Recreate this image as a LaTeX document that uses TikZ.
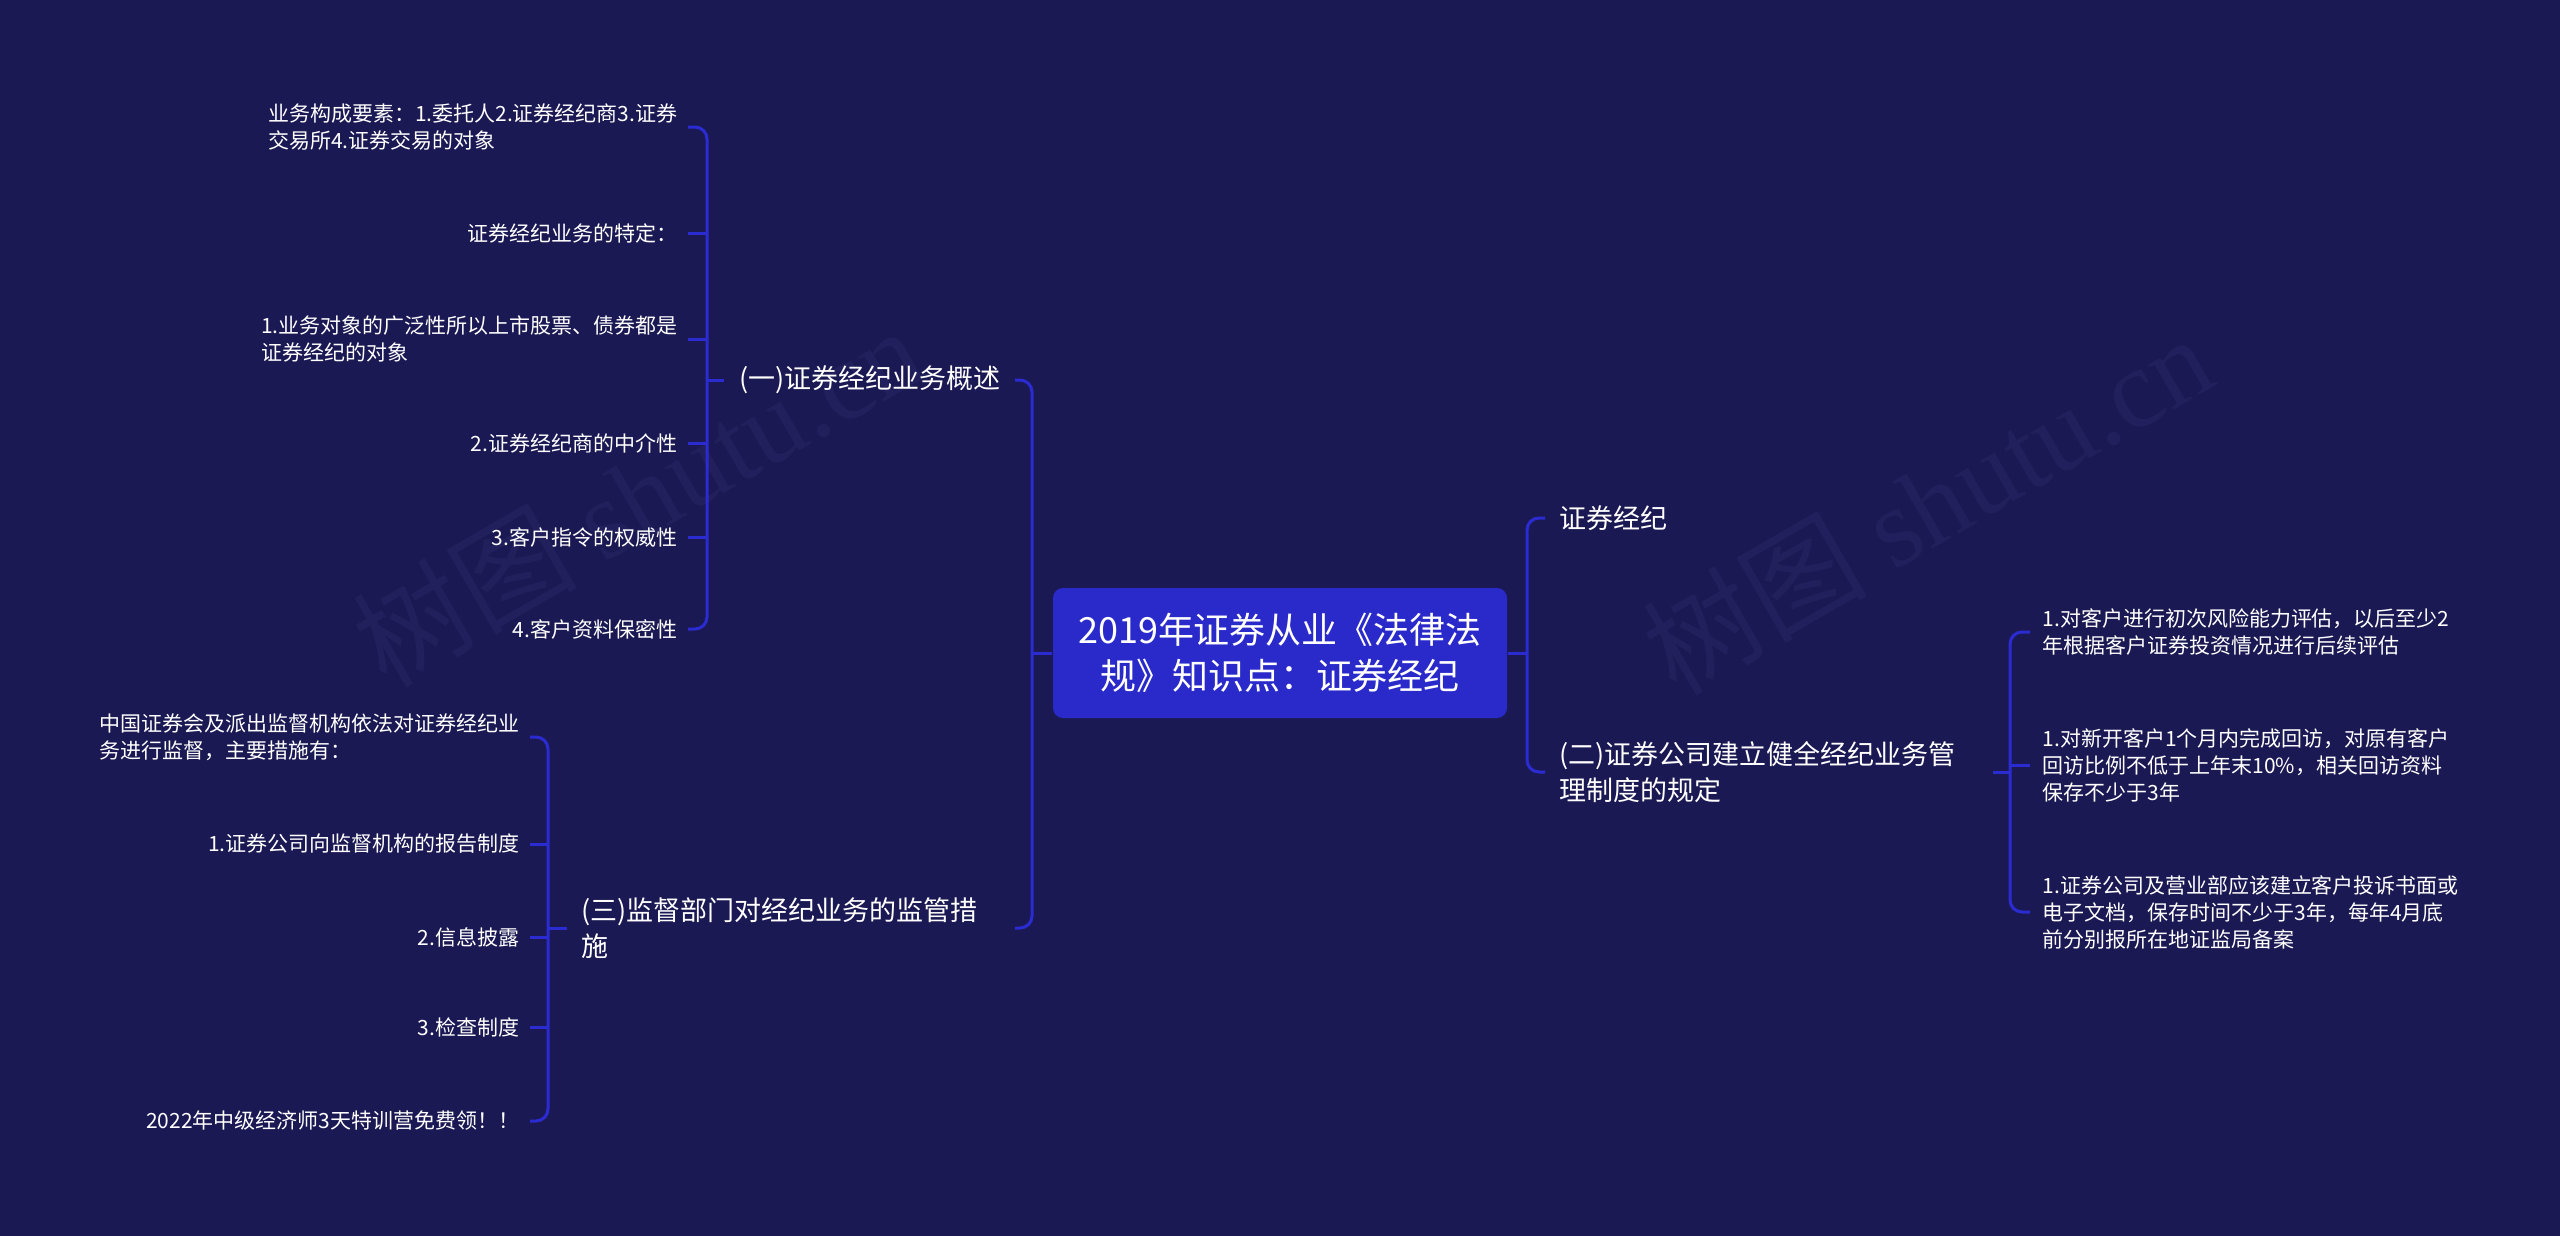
\documentclass[tikz,border=0pt]{standalone}
\usepackage{fontspec}
\setmainfont{Noto Sans CJK SC}
\newfontfamily\wmserif{Liberation Serif}
\definecolor{bgnavy}{HTML}{1B1953}
\definecolor{rootblue}{HTML}{2A2ACB}
\definecolor{linkblue}{HTML}{2B2BD2}
\definecolor{wmgray}{HTML}{22205C}

\begin{document}
\begin{tikzpicture}[
    link/.style={linkblue, line width=0.03cm, rounded corners=0.12cm},
    rootbox/.style={fill=rootblue, rounded corners=0.1cm, text=white, align=center,
        minimum width=4.54cm, minimum height=1.30cm, font=\fontsize{10.24pt}{13.1pt}\selectfont},
    topic/.style={text=white, inner xsep=0.14cm, inner ysep=0.05cm, align=left,
        font=\fontsize{7.68pt}{10.24pt}\selectfont},
    leaf/.style={text=white, inner xsep=0.10cm, inner ysep=0.04cm, align=left,
        font=\fontsize{5.97pt}{7.68pt}\selectfont},
    wmark/.style={wmgray, rotate=30, font=\fontsize{32pt}{32pt}\selectfont}
]
    % 背景
    \useasboundingbox (0,0) rectangle (25.60,-12.35);
    \fill[bgnavy] (-0.1,0.1) rectangle (25.70,-12.45);
    % 水印
    \node[wmark] (wm1) at (6.37,-4.95) {树图 {\wmserif shutu.cn}};
    \node[wmark] (wm2) at (19.27,-5.03) {树图 {\wmserif shutu.cn}};

    % 中心主题
    \node[rootbox] (root) at (12.80,-6.53) {2019年证券从业《法律法\\规》知识点：证券经纪};

    % 一级分支
    \node[topic, anchor=east] (gaishu) at (10.15,-3.80) {(一)证券经纪业务概述};
    \node[topic, anchor=east, text width=4.19cm] (jianguan) at (10.15,-9.28) {(三)监督部门对经纪业务的监管措\\施};
    \node[topic, anchor=west] (jingji) at (15.45,-5.18) {证券经纪};
    \node[topic, anchor=west, text width=4.19cm] (zhidu) at (15.45,-7.72) {(二)证券公司建立健全经纪业务管\\理制度的规定};

    % 分叉点
    \coordinate (jL) at (10.32,-6.53);
    \coordinate (jR) at (15.27,-6.53);
    \coordinate (jA) at (7.07,-3.80);
    \coordinate (jC) at (5.48,-9.28);
    \coordinate (jB) at (20.10,-7.72);

    % (一)的子节点
    \node[leaf, anchor=east] (a1) at (6.88,-1.27) {业务构成要素：1.委托人2.证券经纪商3.证券\\交易所4.证券交易的对象};
    \node[leaf, anchor=east] (a2) at (6.88,-2.33) {证券经纪业务的特定：};
    \node[leaf, anchor=east] (a3) at (6.88,-3.39) {1.业务对象的广泛性所以上市股票、债券都是\\证券经纪的对象};
    \node[leaf, anchor=east] (a4) at (6.88,-4.43) {2.证券经纪商的中介性};
    \node[leaf, anchor=east] (a5) at (6.88,-5.37) {3.客户指令的权威性};
    \node[leaf, anchor=east] (a6) at (6.88,-6.29) {4.客户资料保密性};

    % (三)的子节点
    \node[leaf, anchor=east] (c1) at (5.30,-7.37) {中国证券会及派出监督机构依法对证券经纪业\\务进行监督，主要措施有：};
    \node[leaf, anchor=east] (c2) at (5.30,-8.44) {1.证券公司向监督机构的报告制度};
    \node[leaf, anchor=east] (c3) at (5.30,-9.37) {2.信息披露};
    \node[leaf, anchor=east] (c4) at (5.30,-10.27) {3.检查制度};
    \node[leaf, anchor=east] (c5) at (5.30,-11.21) {2022年中级经济师3天特训营免费领！！};

    % (二)的子节点
    \node[leaf, anchor=west, inner xsep=0.12cm] (r1) at (20.30,-6.32) {1.对客户进行初次风险能力评估，以后至少2\\年根据客户证券投资情况进行后续评估};
    \node[leaf, anchor=west, inner xsep=0.12cm] (r2) at (20.30,-7.65) {1.对新开客户1个月内完成回访，对原有客户\\回访比例不低于上年末10\%，相关回访资料\\保存不少于3年};
    \node[leaf, anchor=west, inner xsep=0.12cm] (r3) at (20.30,-9.12) {1.证券公司及营业部应该建立客户投诉书面或\\电子文档，保存时间不少于3年，每年4月底\\前分别报所在地证监局备案};

    % 连线：中心到一级
    \draw[link] (root.west) -- (jL);
    \draw[link] (gaishu.east) -| (jL) |- (jianguan.east);
    \draw[link] (root.east) -- (jR);
    \draw[link] (jingji.west) -| (jR) |- (zhidu.west);

    % 连线：一级到二级
    \draw[link] (gaishu.west) -- (jA);
    \draw[link] (a1.east) -| (jA) |- (a6.east);
    \foreach \n in {a2,a3,a4,a5}
        \draw[link] (jA |- \n.east) -- (\n.east);

    \draw[link] (jianguan.west) -- (jC);
    \draw[link] (c1.east) -| (jC) |- (c5.east);
    \foreach \n in {c2,c3,c4}
        \draw[link] (jC |- \n.east) -- (\n.east);

    \draw[link] (zhidu.east) -- (jB);
    \draw[link] (r1.west) -| (jB) |- (r3.west);
    \draw[link] (jB |- r2.west) -- (r2.west);
\end{tikzpicture}
\end{document}
